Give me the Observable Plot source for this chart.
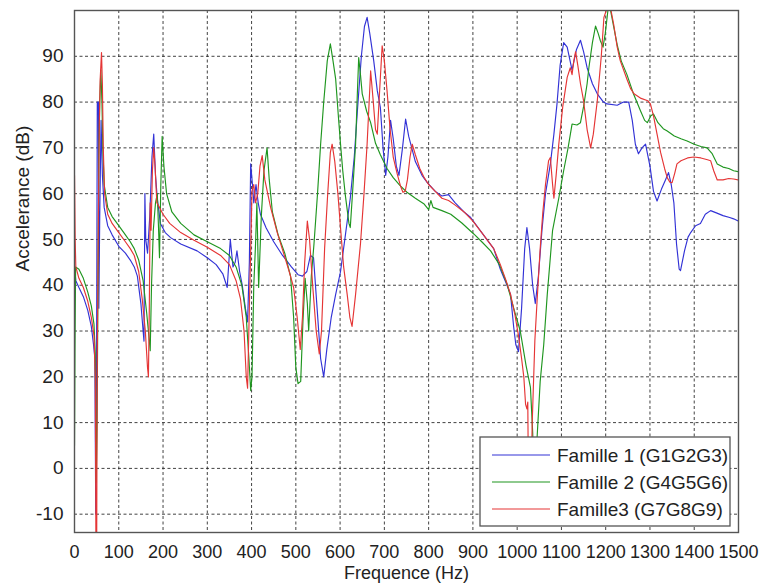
<!DOCTYPE html>
<html>
<head>
<meta charset="utf-8">
<script src="https://cdn.jsdelivr.net/npm/d3@7"></script>
<script src="https://cdn.jsdelivr.net/npm/@observablehq/plot@0.6"></script>
<style>
  html, body { margin: 0; padding: 0; background: #fff; }
  #chart { width: 760px; height: 584px; }
</style>
</head>
<body>
<div id="chart"></div>
<script>
// ---------- DATA ----------
const seriesNames = ["Famille 1 (G1G2G3)", "Famille 2 (G4G5G6)", "Famille3 (G7G8G9)"];
const xTicks = [0,100,200,300,400,500,600,700,800,900,1000,1100,1200,1300,1400,1500];
const yTicks = [-10,0,10,20,30,40,50,60,70,80,90];
const xLabel = "Frequence (Hz)";
const yLabel = "Accelerance (dB)";

// [frequency Hz, accelerance dB]
const famille1 = [[0,44],[3,41],[10,39.5],[20,37.5],[30,34.5],[38,31],[43,27],[46,24],[48,-10],[50,28],[51.5,80],[54,80],[55,35],[57,55],[60,76],[63,64],[67,57],[75,53],[85,51],[100,48.5],[115,47],[126,45.5],[135,44],[142,42],[150,36],[155,30],[157,27.8],[159,60],[161,50],[165,47],[170,55],[175,68],[179,73],[183,64],[187,59],[194,53.5],[205,51.5],[217,50.4],[240,49],[277,47.5],[300,46],[320,44.5],[335,42.5],[345,39.5],[352,50],[358,44],[363,45],[367,47.5],[373,43],[379,40],[386,35],[391,32],[395,45],[398,66.5],[402,62],[405,58],[410,62],[415,58],[420,55.5],[433,52.5],[450,49.5],[470,46.5],[490,44],[505,42.3],[515,42],[525,43],[533,46.5],[540,46],[548,35],[556,24],[563,20],[570,26],[580,33],[590,38],[601,43],[612,51],[623,59],[632,68],[639,78],[648,90],[655,96.5],[661,98.5],[667,95],[676,89],[684,82.5],[691,78.8],[697,70],[703,64],[708,68],[714,76],[720,72],[727,66],[733,64],[741,70],[748,76.3],[755,72.5],[770,67],[785,64],[797,62.4],[815,60.5],[830,59.5],[845,59.8],[860,58],[880,56],[895,54.8],[920,51.5],[947,48],[962,43.5],[975,40.5],[985,38],[992,31],[997,27],[1003,25.5],[1010,35],[1017,48],[1022,52.6],[1028,48],[1035,40],[1041,36],[1048,42],[1056,52],[1064,60],[1075,66.5],[1083,73],[1090,79.6],[1097,88],[1105,93],[1113,92],[1124,87],[1134,91.5],[1143,93.5],[1150,91],[1158,87.5],[1170,84],[1181,81.8],[1195,80],[1203,79.6],[1226,79.3],[1240,80],[1252,80],[1260,76],[1267,70.8],[1274,68.7],[1282,70],[1290,70.8],[1300,66],[1308,60.5],[1316,58.4],[1326,61],[1335,63],[1342,64.6],[1348,62],[1354,58],[1360,49],[1366,43.5],[1369,43.2],[1378,47.5],[1386,50.5],[1392,51.5],[1403,53],[1414,53.5],[1425,55.5],[1437,56.3],[1450,55.8],[1465,55.2],[1480,54.8],[1489,54.5],[1500,54]];

const famille2 = [[0,5],[1,25],[2.5,44],[10,43.5],[20,41.5],[30,38.5],[38,35.5],[44,31.5],[47,25],[49,-3],[51,10],[53,40],[55,68],[57,80],[59.5,87],[62,80],[64,70],[67,62],[75,57],[85,55],[100,53],[115,51],[126,49.5],[135,48],[145,45.5],[155,41],[163,34],[168,29],[171,25.7],[174,40],[178,52],[183,58],[187,60],[190,52],[192,46],[195,62],[198,72.5],[202,66],[208,60],[220,56],[240,53.5],[270,51],[300,49.5],[330,48],[350,46.5],[365,44],[378,40],[388,33],[394,24],[398,17],[401,20],[405,40],[409,49],[412,58],[416,39.5],[422,55],[428,65],[435,70],[440,63],[447,56],[460,51],[475,47],[488,42],[495,33],[500,22],[505,18.5],[511,19],[516,32],[521,41.5],[526,36],[529,30],[535,42],[541,49],[549,60],[556,70.8],[563,80],[571,89],[578,92.7],[584,89],[590,85],[596,77],[601,70.8],[606,65],[612,59.5],[620,53.5],[623,52.6],[628,60],[635,70.8],[639,82],[642,89.7],[646,86],[650,81.8],[660,78],[669,75.5],[680,71],[691,68.5],[706,65.5],[720,63.5],[735,61.8],[751,60.3],[770,59],[789,57.8],[800,56.5],[805,58.5],[810,57],[830,56.3],[850,55.5],[875,53.6],[902,51.2],[920,49.5],[940,47.5],[960,44.5],[977,40.3],[995,34],[1007,30],[1020,22.5],[1030,17.7],[1035,8],[1040,-8],[1043,0],[1045,6.7],[1052,19],[1060,27],[1068,38],[1080,52],[1094,59],[1105,65],[1115,70],[1124,75.2],[1135,75],[1143,75.5],[1150,79],[1158,84],[1162,87.5],[1170,93],[1177,96.6],[1183,95],[1188,93.4],[1194,92],[1199,95],[1205,100],[1210,100.5],[1218,96.5],[1226,92.5],[1235,89],[1248,86],[1262,82],[1279,78],[1288,76],[1294,75.5],[1302,77],[1308,77.4],[1318,75.5],[1330,74.2],[1339,73.7],[1355,72.6],[1370,72],[1384,71.5],[1400,70.8],[1415,70.3],[1429,70],[1440,68.8],[1452,66.5],[1465,65.8],[1478,65.5],[1489,65],[1500,64.8]];

const famille3 = [[0,64],[1.5,50],[3,44],[10,41.5],[20,39.5],[30,36.5],[38,33],[44,29],[47,20],[48.5,-20],[50,-20],[51.5,25],[54,55],[56,75],[58,85],[61,90.8],[63,84],[65,70],[68,60],[75,55.5],[85,53.5],[100,51.5],[115,49.5],[126,48],[135,46.5],[145,43],[153,37],[160,30],[165,22],[167,20],[169,35],[171,58],[173,52],[176,65],[179,70],[182,66],[186,58],[192,57],[200,55.5],[215,53.5],[240,51.5],[270,49.8],[300,48.3],[330,46.5],[350,44.5],[365,41],[375,37],[383,30],[388,20],[391,17.5],[395,35],[401,60.6],[405,62],[409,58],[414,60],[419,66],[424,68.3],[430,63],[443,57],[458,51.5],[473,46.8],[485,43],[495,39.5],[503,33],[510,26],[515,33],[520,45],[526,54],[531,50],[538,40],[546,30],[553,25],[558,30],[565,48],[572,60],[578,69],[582,70.8],[588,67],[595,60],[601,52.5],[608,44],[616,38],[622,33],[627,31],[635,38],[646,49],[654,60],[661,70.8],[669,86.8],[675,80],[680,74],[684,73],[689,82],[695,92.3],[700,89],[706,82.5],[713,74],[720,68],[729,64.3],[737,61.5],[742,60.3],[747,60.5],[752,63],[758,68],[763,70.8],[770,68.5],[780,65.5],[790,63.5],[800,62],[815,60.5],[830,59],[845,58.5],[860,57.5],[880,56],[900,54],[920,51.5],[947,48],[962,44.5],[975,41],[985,38],[995,33.5],[1003,29],[1010,24],[1015,20],[1019,14],[1022,13],[1024,14.5],[1026,-10],[1030,-10],[1034,10],[1040,28],[1045,36.6],[1052,48],[1058,56],[1064,62],[1071,67.2],[1075,67.9],[1080,62],[1083,59],[1088,64],[1094,70.8],[1103,79],[1113,85.4],[1120,87.5],[1124,86],[1128,89],[1132,91],[1137,88],[1143,84],[1150,80.3],[1158,74],[1166,70],[1172,73],[1181,80.3],[1190,90],[1196,98.5],[1203,100.5],[1210,101],[1218,97],[1226,92],[1233,89],[1248,85],[1256,83],[1264,81.8],[1280,80.8],[1295,80.3],[1301,79.6],[1308,77],[1316,73],[1324,69],[1333,65.5],[1339,63.5],[1345,62.5],[1350,62.4],[1356,64.5],[1361,66.5],[1370,67.2],[1385,67.8],[1399,68],[1415,67.8],[1430,67.4],[1437,67.2],[1444,65],[1452,63],[1465,63],[1478,63.3],[1489,63.2],[1500,63]];

// ---------- BUILD ----------
const seriesColors = ["#3232d6", "#1f961f", "#e53535"];
const allSeries = [famille1, famille2, famille3];
const rows = allSeries.flatMap((s, i) => s.map(([hz, db]) => ({series: seriesNames[i], hz, db})));

const font = "'Liberation Sans', Arial, Helvetica, sans-serif";
const fs = 19;
const fsX = 18;

const chart = Plot.plot({
  width: 760,
  height: 584,
  marginLeft: 74,
  marginRight: 22,
  marginTop: 10,
  marginBottom: 52,
  x: {domain: [0, 1500]},
  y: {domain: [-14, 100]},
  color: {domain: seriesNames, range: seriesColors},
  style: {fontFamily: font, fontSize: fs + "px", color: "#222", background: "#fff", overflow: "visible"},
  marks: [
    Plot.ruleX(xTicks, {stroke: "#222", strokeWidth: 1, strokeDasharray: "3,2.5", strokeOpacity: 0.85}),
    Plot.ruleY(yTicks, {stroke: "#222", strokeWidth: 1, strokeDasharray: "3,2.5", strokeOpacity: 0.85}),
    ...seriesNames.map(name => Plot.line(rows.filter(d => d.series === name), {
      x: "hz", y: "db", stroke: "series", strokeWidth: 1.15, clip: true
    })),
    Plot.frame({stroke: "#555", strokeWidth: 1.4}),
    Plot.axisX(xTicks, {tickSize: 0, tickPadding: 13, label: null, fontSize: fsX, tickFormat: d => String(d)}),
    Plot.axisY(yTicks, {tickSize: 0, tickPadding: 11, label: null, fontSize: fs, tickFormat: d => String(d)}),
    Plot.text([xLabel], {frameAnchor: "bottom", dy: 46, fontSize: fsX, fill: "#222"}),
    Plot.text([yLabel], {frameAnchor: "left", dx: -52, rotate: -90, fontSize: fs, fill: "#222"})
  ]
});

document.getElementById("chart").appendChild(chart);

// ---------- LEGEND ----------
const svg = d3.select(chart);
const frameRight = 760 - 22, frameBottom = 584 - 52;
const lw = 250, lh = 89;
const lx = frameRight - 8 - lw, ly = frameBottom - 6 - lh;
const lg = svg.append("g").attr("font-family", font).attr("font-size", fs).attr("text-anchor", "start");
lg.append("rect").attr("x", lx).attr("y", ly).attr("width", lw).attr("height", lh)
  .attr("fill", "#fff").attr("stroke", "#555").attr("stroke-width", 1.3);
seriesNames.forEach((name, i) => {
  const cy = ly + 18 + i * 27;
  lg.append("line").attr("x1", lx + 12).attr("x2", lx + 70).attr("y1", cy).attr("y2", cy)
    .attr("stroke", seriesColors[i]).attr("stroke-width", 1.2);
  lg.append("text").attr("x", lx + 77).attr("y", cy).attr("dy", "0.35em")
    .attr("text-anchor", "start").attr("fill", "#222").text(name);
});
</script>
</body>
</html>
